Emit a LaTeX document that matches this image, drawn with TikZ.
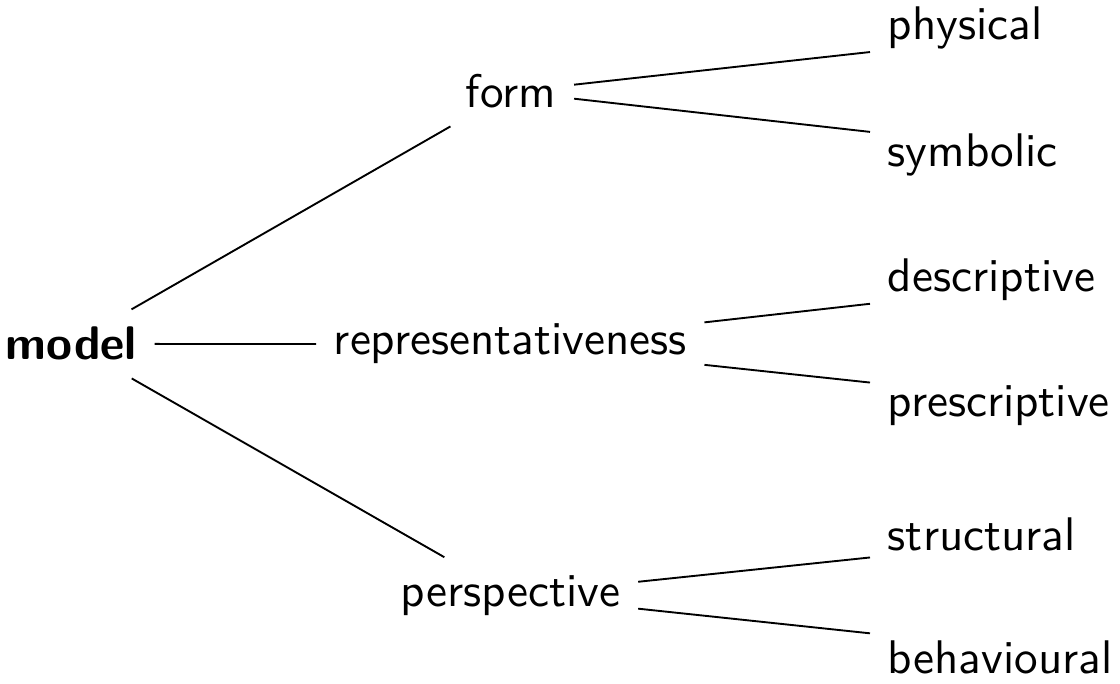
\documentclass[tikz,border=0pt]{standalone}
\renewcommand{\familydefault}{\sfdefault}

\begin{document}
\begin{tikzpicture}[x=0.2121pt, y=-0.2121pt,
    term/.style={inner sep=3.6pt, anchor=base west},
    branch/.style={thin, black}]
    \useasboundingbox (0,0) rectangle (1120,684);

    % Root
    \node[term, font=\bfseries] (model) at (-12, 360) {model};

    % Middle level
    \node[term] (form) at (448, 108) {form};
    \node[term] (repr) at (316, 355) {representativeness};
    \node[term] (persp) at (383, 606) {perspective};

    % Leaves
    \node[term] (phys) at (870, 40) {physical};
    \node[term] (symb) at (870, 167) {symbolic};
    \node[term] (descr) at (870, 292) {descriptive};
    \node[term] (prescr) at (870, 417) {prescriptive};
    \node[term] (struct) at (870, 550) {structural};
    \node[term] (behav) at (870, 673) {behavioural};

    % Root connections
    \draw[branch] (model) -- (form);
    \draw[branch] (model) -- (repr);
    \draw[branch] (model) -- (persp);

    % Leaf connections
    \draw[branch] (form) -- ([yshift=-5pt]phys.west);
    \draw[branch] (form) -- ([yshift=5pt]symb.west);
    \draw[branch] (repr) -- ([yshift=-5pt]descr.west);
    \draw[branch] (repr) -- ([yshift=5pt]prescr.west);
    \draw[branch] (persp) -- ([yshift=-5pt]struct.west);
    \draw[branch] (persp) -- ([yshift=5pt]behav.west);
\end{tikzpicture}
\end{document}
